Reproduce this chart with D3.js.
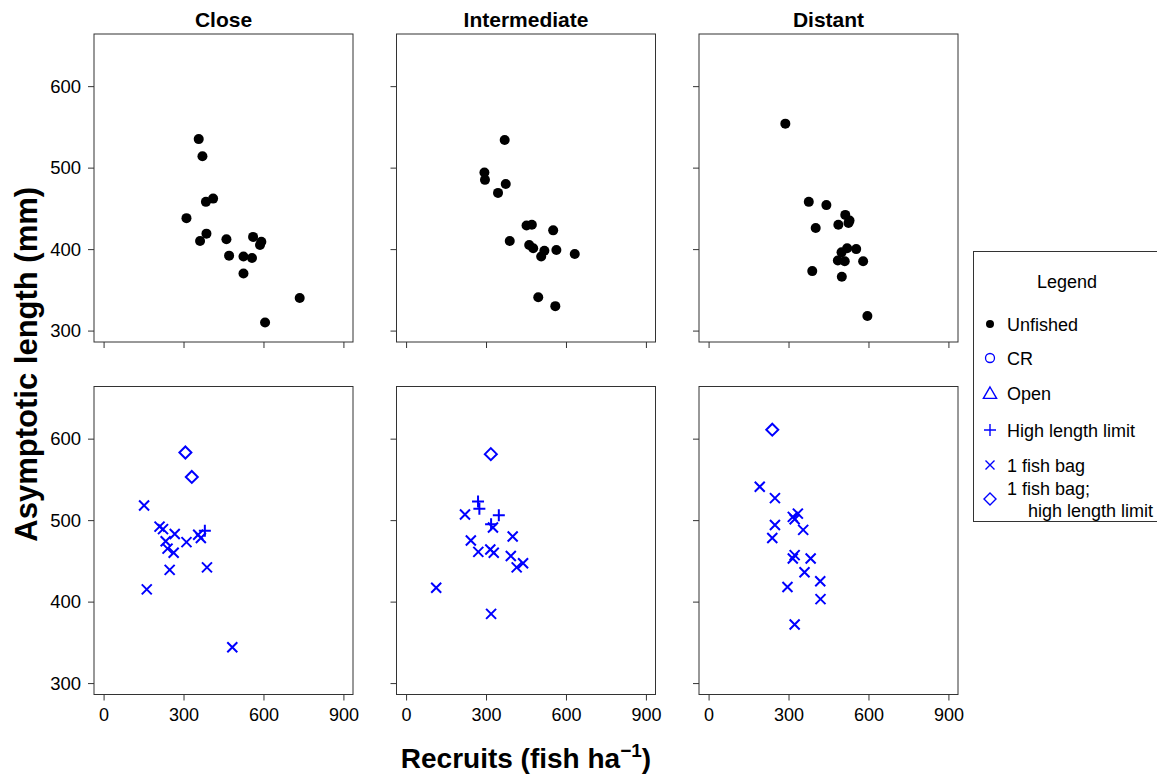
<!DOCTYPE html>
<html>
<head>
<meta charset="utf-8">
<script src="https://cdn.jsdelivr.net/npm/d3@7"></script>
<style>
  body { margin: 0; background: #fff; }
  #plot { width: 1157px; height: 774px; overflow: hidden; }
</style>
</head>
<body>
<div id="plot"></div>
<script>
// Panel titles and tick values
const distances = ["Close", "Intermediate", "Distant"];
const xTicks = [0, 300, 600, 900];
const yTicks = [300, 400, 500, 600];

// Unfished sites: [recruits, asymptotic length]
const closeUnfished = [[357,535],[371,514],[411,462],[384,458],[311,438],[386,419],[362,410],[461,412],[561,415],
    [592,409],[587,405],[471,392],[525,391],[557,389],[525,370],[736,340],[606,310]];
const intermediateUnfished = [[370,534],[294,494],[296,485],[374,480],[345,469],[452,429],[472,430],[552,423],[389,410],
    [462,405],[477,401],[519,398],[564,399],[507,391],[633,394],[496,341],[560,330]];
const distantUnfished = [[288,554],[376,458],[442,454],[513,442],[529,435],[525,432],[487,430],[402,426],[520,401],
    [554,400],[499,396],[485,386],[511,385],[580,385],[389,373],[500,366],[596,318]];

// Fished sites: [recruits, asymptotic length, regulation]
const closeFished = [[307,583,"bagHll"],[331,553,"bagHll"],[152,518,"bag"],[210,492,"bag"],[223,489,"bag"],[267,483,"bag"],
    [233,474,"bag"],[311,473,"bag"],[240,465,"bag"],[263,460,"bag"],[355,482,"bag"],[365,478,"bag"],[380,487,"hll"],
    [248,439,"bag"],[388,442,"bag"],[162,415,"bag"],[483,344,"bag"]];
const intermediateFished = [[318,581,"bagHll"],[270,523,"hll"],[275,514,"hll"],[348,506,"hll"],[319,495,"hll"],
    [221,507,"bag"],[243,475,"bag"],[271,461,"bag"],[316,464,"bag"],[329,460,"bag"],[400,480,"bag"],[393,456,"bag"],
    [415,442,"bag"],[439,447,"bag"],[113,417,"bag"],[319,385,"bag"],[326,491,"bag"]];
const distantFished = [[239,611,"bagHll"],[192,541,"bag"],[249,527,"bag"],[335,508,"bag"],[316,504,"bag"],[323,501,"bag"],
    [355,488,"bag"],[249,494,"bag"],[239,478,"bag"],[323,457,"bag"],[316,453,"bag"],[383,453,"bag"],[360,436,"bag"],
    [419,425,"bag"],[296,418,"bag"],[420,403,"bag"],[323,372,"bag"]];

// Legend entries
const legendLabels = ["Unfished", "CR", "Open", "High length limit", "1 fish bag", ["1 fish bag;", "high length limit"]];
const legendKinds = ["dot", "circle", "open", "hll", "bag", "bagHll"];

const unfished = [closeUnfished, intermediateUnfished, distantUnfished];
const fished = [closeFished, intermediateFished, distantFished];

// Dimensions
const width = 1157;
const height = 774;
const panelLeft = 94;
const panelWidth = 259;
const panelGap = 43.5;
const panelTops = [34, 386.5];
const panelHeight = 308;
const blue = "#0000ff";
const frame = "#333";
const font = "'Liberation Sans', Arial, Helvetica, sans-serif";

const svg = d3.select("#plot")
    .append("svg")
    .attr("width", width)
    .attr("height", height)
    .attr("viewBox", [0, 0, width, height])
    .style("font-family", font);

// Marker shapes
function markerPath(kind, s) {
    if (kind === "hll") return `M${-s},0H${s}M0,${-s}V${s}`;
    if (kind === "bag") return `M${-s},${-s}L${s},${s}M${-s},${s}L${s},${-s}`;
    if (kind === "bagHll") return `M0,${-s}L${s},0L0,${s}L${-s},0Z`;
    if (kind === "open") return `M0,${-s}L${s * 1.1},${s * 0.9}L${-s * 1.1},${s * 0.9}Z`;
    return null;
}

function drawMarker(g, kind, big) {
    if (kind === "dot") {
        g.append("circle").attr("r", big ? 5 : 4).attr("fill", "#000");
    } else if (kind === "circle") {
        g.append("circle").attr("r", 4.5).attr("fill", "none").attr("stroke", blue).attr("stroke-width", 1.3);
    } else {
        const size = kind === "bag" ? (big ? 5 : 4.5) : 6;
        g.append("path")
            .attr("d", markerPath(kind, size))
            .attr("fill", "none")
            .attr("stroke", blue)
            .attr("stroke-width", big ? 2 : 1.4);
    }
}

for (let row = 0; row < 2; row++) {
    for (let col = 0; col < 3; col++) {
        const left = panelLeft + col * (panelWidth + panelGap);
        const top = panelTops[row];

        const x = d3.scaleLinear().domain([-36, 936]).range([left, left + panelWidth]);
        const y = d3.scaleLinear().domain([286, 664]).range([top + panelHeight, top]);

        // Bottom axis (labels only on the lower row)
        const xAxis = svg.append("g")
            .attr("transform", `translate(0,${top + panelHeight})`)
            .call(d3.axisBottom(x).tickValues(xTicks).tickSize(6).tickSizeOuter(0)
                .tickFormat(row === 1 ? d3.format("d") : ""));
        xAxis.select(".domain").remove();
        xAxis.selectAll("line").attr("stroke", frame);
        xAxis.selectAll("text")
            .attr("y", 14)
            .attr("dy", "0.71em")
            .attr("fill", "#000")
            .style("font-size", "18px")
            .style("font-family", font);

        // Left axis (labels only on the first column)
        const yAxis = svg.append("g")
            .attr("transform", `translate(${left},0)`)
            .call(d3.axisLeft(y).tickValues(yTicks).tickSize(6).tickSizeOuter(0)
                .tickFormat(col === 0 ? d3.format("d") : ""));
        yAxis.select(".domain").remove();
        yAxis.selectAll("line").attr("stroke", frame);
        yAxis.selectAll("text")
            .attr("x", -13)
            .attr("fill", "#000")
            .style("font-size", "18.5px")
            .style("font-family", font);

        // Panel frame
        svg.append("rect")
            .attr("x", left)
            .attr("y", top)
            .attr("width", panelWidth)
            .attr("height", panelHeight)
            .attr("fill", "none")
            .attr("stroke", frame)
            .attr("stroke-width", 1);

        if (row === 0) {
            svg.append("text")
                .attr("x", left + panelWidth / 2)
                .attr("y", 27)
                .attr("text-anchor", "middle")
                .style("font-size", "21px")
                .style("font-weight", "bold")
                .text(distances[col]);

            svg.append("g")
                .selectAll("circle")
                .data(unfished[col])
                .join("circle")
                .attr("cx", d => x(d[0]))
                .attr("cy", d => y(d[1]))
                .attr("r", 5)
                .attr("fill", "#000");
        } else {
            svg.append("g")
                .selectAll("g")
                .data(fished[col])
                .join("g")
                .attr("transform", d => `translate(${x(d[0])},${y(d[1])})`)
                .each(function(d) { drawMarker(d3.select(this), d[2], true); });
        }
    }
}

// Axis titles
svg.append("text")
    .attr("x", panelLeft + 1.5 * panelWidth + panelGap)
    .attr("y", 768)
    .attr("text-anchor", "middle")
    .style("font-size", "28px")
    .style("font-weight", "bold")
    .call(t => {
        t.append("tspan").text("Recruits (fish ha");
        t.append("tspan").attr("dy", -11).style("font-size", "19px").text("\u22121");
        t.append("tspan").attr("dy", 11).text(")");
    });

svg.append("text")
    .attr("transform", `translate(37,${(panelTops[0] + panelTops[1] + panelHeight) / 2}) rotate(-90)`)
    .attr("text-anchor", "middle")
    .style("font-size", "31px")
    .style("font-weight", "bold")
    .text("Asymptotic length (mm)");

// Legend
const legend = svg.append("g");
legend.append("rect")
    .attr("x", 973.5)
    .attr("y", 251.5)
    .attr("width", 200)
    .attr("height", 270)
    .attr("fill", "#fff")
    .attr("stroke", frame);

legend.append("text")
    .attr("x", 1067)
    .attr("y", 288)
    .attr("text-anchor", "middle")
    .style("font-size", "18px")
    .text("Legend");

const legendY = [324, 358, 393, 430, 465, 499];
legendLabels.forEach((label, i) => {
    const g = legend.append("g").attr("transform", `translate(990,${legendY[i]})`);
    drawMarker(g, legendKinds[i], false);
    if (Array.isArray(label)) {
        legend.append("text").attr("x", 1007).attr("y", 495).style("font-size", "18px").text(label[0]);
        legend.append("text").attr("x", 1028).attr("y", 517).style("font-size", "18px").text(label[1]);
    } else {
        legend.append("text").attr("x", 1007).attr("y", legendY[i] + 6.5).style("font-size", "18px").text(label);
    }
});
</script>
</body>
</html>
